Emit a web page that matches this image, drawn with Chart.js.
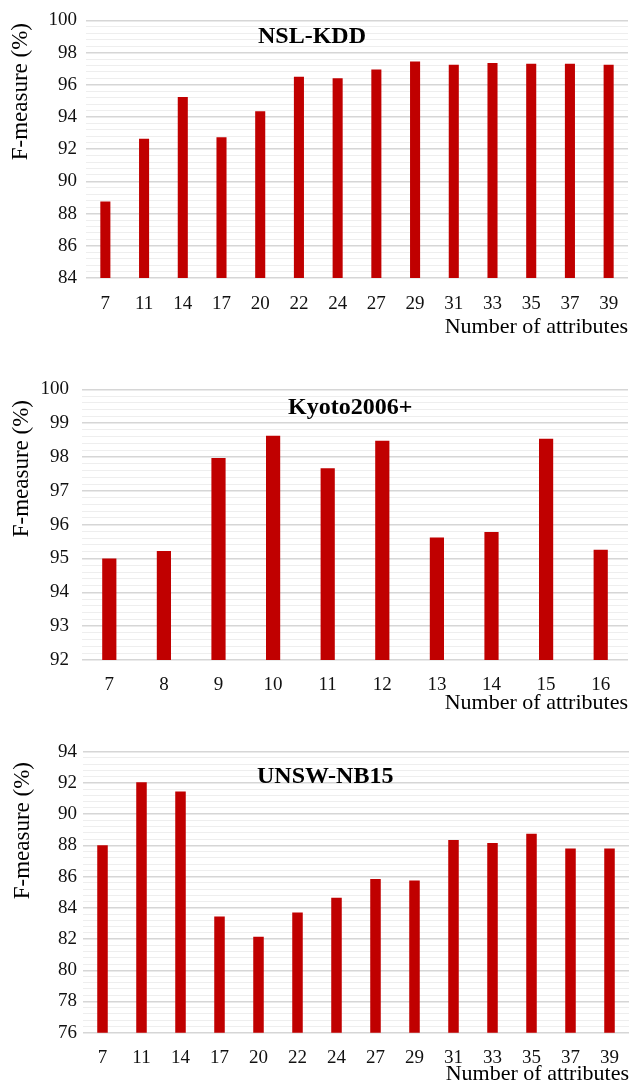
<!DOCTYPE html>
<html>
<head>
<meta charset="utf-8">
<title>F-measure vs number of attributes</title>
<script src="https://cdn.jsdelivr.net/npm/chart.js@4.4.0/dist/chart.umd.min.js"></script>
<style>
  body { margin: 0; background: #fff; }
  canvas { display: block; }
</style>
</head>
<body>
<canvas id="nslChart" width="629" height="345"></canvas>
<canvas id="kyotoChart" width="629" height="375"></canvas>
<canvas id="unswChart" width="629" height="368"></canvas>

<script>
// NSL-KDD
const nslAttrs = ["7", "11", "14", "17", "20", "22", "24", "27", "29", "31", "33", "35", "37", "39"];
const nslScores = [88.75, 92.65, 95.25, 92.75, 94.35, 96.5, 96.4, 96.95, 97.45, 97.25, 97.35, 97.3, 97.3, 97.25];
const nslTicks = [84, 86, 88, 90, 92, 94, 96, 98, 100];

// Kyoto2006+
const kyotoAttrs = ["7", "8", "9", "10", "11", "12", "13", "14", "15", "16"];
const kyotoScores = [95.0, 95.22, 97.97, 98.63, 97.67, 98.48, 95.62, 95.78, 98.54, 95.26];
const kyotoTicks = [92, 93, 94, 95, 96, 97, 98, 99, 100];

// UNSW-NB15
const unswAttrs = ["7", "11", "14", "17", "20", "22", "24", "27", "29", "31", "33", "35", "37", "39"];
const unswScores = [88.0, 92.05, 91.45, 83.45, 82.15, 83.7, 84.65, 85.85, 85.75, 88.35, 88.15, 88.75, 87.8, 87.8];
const unswTicks = [76, 78, 80, 82, 84, 86, 88, 90, 92, 94];

const serif = '"Liberation Serif", "Times New Roman", serif';
const barColor = "#c00000";

// major ticks plus 4 minor gridlines between each pair
function withMinorTicks(majors) {
  const out = [];
  for (let i = 0; i < majors.length; i++) {
    out.push({ value: majors[i], isMajor: true });
    if (i < majors.length - 1) {
      const step = (majors[i + 1] - majors[i]) / 5;
      for (let k = 1; k < 5; k++) {
        out.push({ value: Math.round((majors[i] + k * step) * 1000) / 1000, isMajor: false });
      }
    }
  }
  return out;
}

// dataset name inside the plot and the rotated y title
const captionPlugin = {
  id: "captions",
  afterDraw(chart, args, opts) {
    const ctx = chart.ctx;
    ctx.save();
    ctx.fillStyle = "#000";
    ctx.font = "bold 24px " + serif;
    ctx.textAlign = "left";
    ctx.textBaseline = "alphabetic";
    ctx.fillText(opts.name, opts.nameX, opts.nameY);

    ctx.translate(opts.yTitleX, opts.yTitleTop);
    ctx.rotate(-Math.PI / 2);
    ctx.font = "23px " + serif;
    ctx.textAlign = "right";
    ctx.textBaseline = "middle";
    ctx.fillText("F-measure (%)", 0, 0);
    ctx.restore();
  }
};

function makeChart(id, labels, values, majors, s) {
  new Chart(document.getElementById(id), {
    type: "bar",
    data: {
      labels: labels,
      datasets: [{
        data: values,
        backgroundColor: barColor,
        borderWidth: 0,
        barPercentage: s.barPct,
        categoryPercentage: 1
      }]
    },
    plugins: [captionPlugin],
    options: {
      responsive: false,
      animation: false,
      events: [],
      layout: { padding: { top: s.top, right: s.right, bottom: 0, left: 0 } },
      plugins: {
        legend: { display: false },
        tooltip: { enabled: false },
        captions: s.captions
      },
      scales: {
        x: {
          grid: { display: false },
          border: { display: false },
          ticks: { color: "#111", font: { family: serif, size: 19 }, padding: s.xTickPad, autoSkip: false, maxRotation: 0 },
          title: {
            display: true,
            text: "Number of attributes",
            align: "end",
            color: "#000",
            font: { family: serif, size: 22, lineHeight: 1 },
            padding: { top: 0, bottom: s.xTitlePad }
          },
          afterFit: (scale) => { scale.height = s.xHeight; }
        },
        y: {
          min: majors[0],
          max: majors[majors.length - 1],
          border: { display: false },
          grid: {
            drawTicks: false,
            color: (c) => (c.tick && c.tick.isMajor ? "#d6d6d6" : "#eeeeee"),
            lineWidth: (c) => (c.tick && c.tick.isMajor ? 1.5 : 1)
          },
          ticks: {
            autoSkip: false,
            color: "#111",
            font: { family: serif, size: 19 },
            padding: s.yTickPad,
            callback: (value, index, ticks) => (ticks[index].isMajor ? value : "")
          },
          afterBuildTicks: (scale) => { scale.ticks = withMinorTicks(majors); },
          afterFit: (scale) => { scale.width = s.yWidth; }
        }
      }
    }
  });
}

makeChart("nslChart", nslAttrs, nslScores, nslTicks, {
  top: 18.5, right: 1, yWidth: 86, xHeight: 67, barPct: 0.26,
  xTickPad: 7, xTitlePad: 7, yTickPad: 9,
  captions: { name: "NSL-KDD", nameX: 258, nameY: 43, yTitleX: 21, yTitleTop: 23 }
});

makeChart("kyotoChart", kyotoAttrs, kyotoScores, kyotoTicks, {
  top: 44.3, right: 1, yWidth: 82, xHeight: 60, barPct: 0.26,
  xTickPad: 6, xTitlePad: 6, yTickPad: 13,
  captions: { name: "Kyoto2006+", nameX: 288, nameY: 69, yTitleX: 22, yTitleTop: 55 }
});

makeChart("unswChart", unswAttrs, unswScores, unswTicks, {
  top: 31.7, right: 0, yWidth: 83, xHeight: 55.3, barPct: 0.27,
  xTickPad: 6, xTitlePad: 3, yTickPad: 6,
  captions: { name: "UNSW-NB15", nameX: 257, nameY: 63, yTitleX: 23, yTitleTop: 42 }
});
</script>
</body>
</html>
